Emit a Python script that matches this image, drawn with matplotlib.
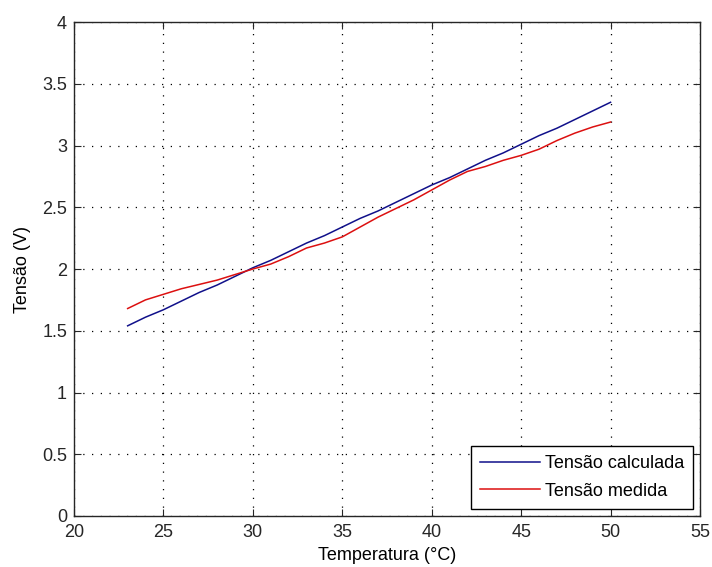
import matplotlib as mpl
mpl.use("Agg")
import matplotlib.pyplot as plt

mpl.rcParams.update({
    'font.family': ['Liberation Sans', 'DejaVu Sans'],
    'font.size': 13,
})

temperatura = list(range(23, 51))
tensao_calculada = [1.54, 1.61, 1.67, 1.74, 1.81, 1.87, 1.94, 2.01, 2.07, 2.14,
                    2.21, 2.27, 2.34, 2.41, 2.47, 2.54, 2.61, 2.68, 2.74, 2.81,
                    2.88, 2.94, 3.01, 3.08, 3.14, 3.21, 3.28, 3.35]
tensao_medida = [1.68, 1.75, 1.795, 1.84, 1.875, 1.91, 1.955, 2.00, 2.04, 2.10,
                 2.17, 2.21, 2.26, 2.34, 2.42, 2.49, 2.56, 2.64, 2.72, 2.79,
                 2.83, 2.88, 2.92, 2.97, 3.04, 3.10, 3.15, 3.19]

xticks = [20, 25, 30, 35, 40, 45, 50, 55]
yticks = [0, 0.5, 1, 1.5, 2, 2.5, 3, 3.5, 4]
yticklabels = ['0', '0.5', '1', '1.5', '2', '2.5', '3', '3.5', '4']

fig = plt.figure(figsize=(7.12, 5.67), dpi=100)
ax = fig.add_axes([74/712, 51/567, 626/712, 494/567])

ax.plot(temperatura, tensao_calculada, color='#10108a', lw=1.1, label='Tensão calculada')
ax.plot(temperatura, tensao_medida, color='#dc1010', lw=1.1, label='Tensão medida')

ax.set_xlim(20, 55)
ax.set_ylim(0, 4)
ax.set_xticks(xticks)
ax.set_yticks(yticks)
ax.set_yticklabels(yticklabels)
ax.grid(True, color='black', linestyle=(0, (1, 6)), linewidth=0.9)
ax.tick_params(direction='in', top=True, right=True, length=5, colors='#262626', labelsize=13)
ax.tick_params(axis='x', pad=6)
ax.tick_params(axis='y', pad=5)
for s in ax.spines.values():
    s.set_color('#262626')
    s.set_linewidth(1.0)

ax.set_xlabel('Temperatura (°C)', fontsize=13, labelpad=4)
ax.set_ylabel('Tensão (V)', fontsize=13, labelpad=8)

# legenda no canto inferior direito, estilo matlab
leg = ax.legend(loc='lower right', fancybox=False, edgecolor='black', framealpha=1,
                borderaxespad=0.4, borderpad=0.5, labelspacing=0.6,
                handlelength=3.3, handletextpad=0.25, fontsize=13)
leg.get_frame().set_linewidth(1.0)

fig.savefig('out.png', dpi=100)
